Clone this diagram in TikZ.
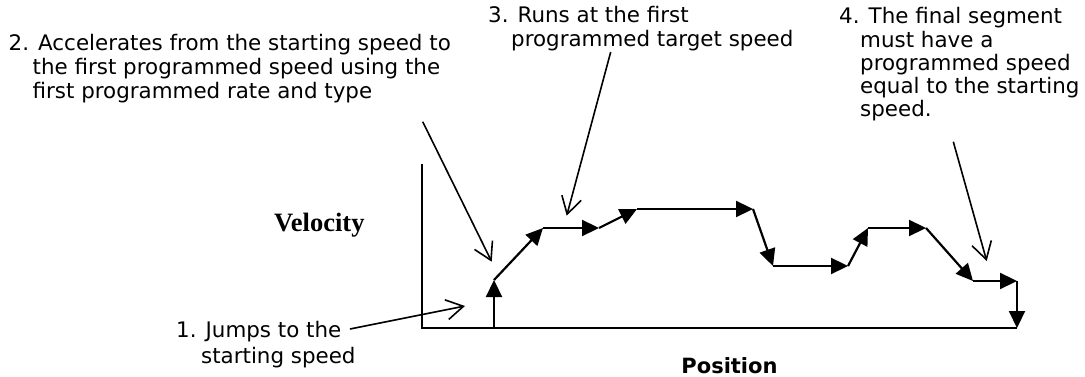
\documentclass[tikz,border=0pt]{standalone}
\usepackage{fontspec}
\setmainfont{DejaVu Sans}
\newfontfamily\velfont{Liberation Serif}
\usetikzlibrary{arrows.meta}
\begin{document}
\begin{tikzpicture}[x=1pt,y=-1pt,
  prof/.style={line width=2.2pt, -{Triangle[length=17pt,width=16pt]}},
  axisline/.style={line width=2pt, line join=miter},
  ann/.style={line width=1.6pt, -{Straight Barb[length=17pt,width=20pt,line width=1.6pt]}},
  lbl/.style={inner sep=0pt, anchor=base west},
  ]
\useasboundingbox (0,0) rectangle (1085,377);

% axes
\coordinate (ytop) at (422,164);
\coordinate (orig) at (422,328);
\coordinate (xend) at (1017,328);
\draw[axisline] (ytop) -- (orig) -- (xend);

% velocity profile
\coordinate (p0) at (494,328);
\coordinate (p1) at (494,280);
\coordinate (p2) at (543,228);
\coordinate (p3) at (599,228);
\coordinate (p4) at (637,209);
\coordinate (p5) at (753,209);
\coordinate (p6) at (773,266);
\coordinate (p7) at (848,266);
\coordinate (p8) at (868,228);
\coordinate (p9) at (926,228);
\coordinate (p10) at (973,281);
\coordinate (p11) at (1017,281);
\coordinate (p12) at (1017,328);
\foreach \a/\b in {p0/p1,p1/p2,p2/p3,p3/p4,p4/p5,p5/p6,p6/p7,p7/p8,p8/p9,p9/p10,p10/p11,p11/p12}
  \draw[prof] (\a) -- (\b);

% axis labels
\node[inner sep=0pt, anchor=base west, font=\velfont\bfseries\fontsize{26.5}{30}\selectfont] (vel) at (274,231) {Velocity};
\node[inner sep=0pt, anchor=base, font=\bfseries\fontsize{21}{25}\selectfont] (pos) at (729.5,373) {Position};

% annotations
\node[lbl, font=\fontsize{21.4}{26}\selectfont] (l1) at (176,337)
  {\begin{tabular}[t]{@{}l@{}}1. Jumps to the\\\hspace*{25pt}starting speed\end{tabular}};
\node[lbl, font=\fontsize{21.4}{24}\selectfont] (l2) at (8.5,51)
  {\begin{tabular}[t]{@{}l@{}}2. Accelerates from the starting speed to\\\hspace*{24pt}the first programmed speed using the\\\hspace*{24pt}first programmed rate and type\end{tabular}};
\node[lbl, font=\fontsize{21.4}{24}\selectfont] (l3) at (488,23)
  {\begin{tabular}[t]{@{}l@{}}3. Runs at the first\\\hspace*{23pt}programmed target speed\end{tabular}};
\node[lbl, font=\fontsize{21.4}{23}\selectfont] (l4) at (839,24)
  {\begin{tabular}[t]{@{}l@{}}4. The final segment\\\hspace*{21pt}must have a\\\hspace*{21pt}programmed speed\\\hspace*{21pt}equal to the starting\\\hspace*{21pt}speed.\end{tabular}};

% annotation arrows
\coordinate (a1s) at (350,329);
\coordinate (a1e) at (465,306);
\coordinate (a2s) at (422.7,121.7);
\coordinate (a2e) at (491.7,261.7);
\coordinate (a3s) at (610.7,52);
\coordinate (a3e) at (566.7,215.7);
\coordinate (a4s) at (953.3,141.7);
\coordinate (a4e) at (986.7,261);
\draw[ann] (a1s) -- (a1e);
\draw[ann] (a2s) -- (a2e);
\draw[ann] (a3s) -- (a3e);
\draw[ann] (a4s) -- (a4e);
\end{tikzpicture}
\end{document}
